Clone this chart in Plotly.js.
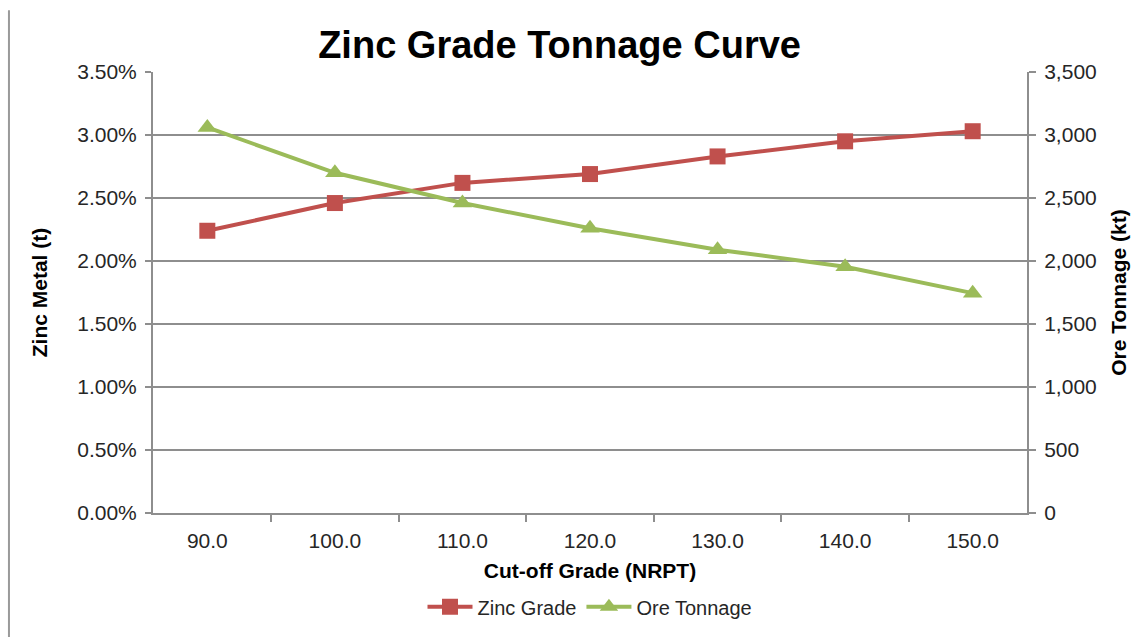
<!DOCTYPE html>
<html>
<head>
<meta charset="utf-8">
<script src="https://cdn.plot.ly/plotly-3.0.1.min.js"></script>
<style>html,body{margin:0;padding:0;background:#fff;}#chart{width:1142px;height:637px;}</style>
</head>
<body>
<div id="chart"></div>
<script>
const cutoffGrades = ['90.0', '100.0', '110.0', '120.0', '130.0', '140.0', '150.0'];
const zincGrade = [2.24, 2.46, 2.62, 2.69, 2.83, 2.95, 3.03];      // %
const oreTonnage = [3060, 2700, 2460, 2260, 2090, 1955, 1745];      // kt

const FONT = 'Liberation Sans, Arial, sans-serif';
const red = '#C0504D';
const green = '#9BBB59';
const grid = '#8E8E8E';
const txt = '#262626';

const traces = [
  {
    x: cutoffGrades, y: zincGrade, name: 'Zinc Grade', type: 'scatter', mode: 'lines+markers',
    line: {color: red, width: 4}, marker: {symbol: 'square', size: 16, color: red},
    yaxis: 'y'
  },
  {
    x: cutoffGrades, y: oreTonnage, name: 'Ore Tonnage', type: 'scatter', mode: 'lines+markers',
    line: {color: green, width: 4}, marker: {symbol: 'triangle-up', size: 17, color: green},
    yaxis: 'y2'
  }
];

const layout = {
  width: 1142, height: 637,
  margin: {l: 153, r: 115, t: 72, b: 123},
  paper_bgcolor: '#fff', plot_bgcolor: '#fff',
  font: {family: FONT, size: 21, color: txt},
  title: {
    text: '<b>Zinc Grade Tonnage Curve</b>',
    font: {family: FONT, size: 38, color: '#000'},
    xref: 'container', x: 0.490, xanchor: 'center',
    yref: 'container', y: 1 - 45 / 637, yanchor: 'middle'
  },
  showlegend: true,
  legend: {
    orientation: 'h', x: 0.5, xanchor: 'center', y: -0.21, yanchor: 'middle',
    font: {family: FONT, size: 20, color: txt}, itemwidth: 45, tracegroupgap: 0
  },
  xaxis: {
    type: 'category',
    tickson: 'boundaries', ticks: 'outside', ticklen: 7, tickcolor: grid, tickwidth: 2,
    ticklabelstandoff: 8,
    showline: true, linecolor: grid, linewidth: 2,
    showgrid: false, zeroline: false,
    tickfont: {family: FONT, size: 21, color: txt},
    title: {text: '<b>Cut-off Grade (NRPT)</b>', font: {family: FONT, size: 21, color: '#000'}, standoff: 12}
  },
  yaxis: {
    range: [0, 3.5], dtick: 0.5, tick0: 0, tickformat: '.2f', ticksuffix: '%',
    ticks: 'outside', ticklen: 6, tickcolor: grid, tickwidth: 2,
    ticklabelstandoff: 4,
    showline: true, linecolor: grid, linewidth: 2,
    showgrid: true, gridcolor: grid, gridwidth: 2, zeroline: false,
    tickfont: {family: FONT, size: 21, color: txt},
    title: {text: '<b>Zinc Metal (t)</b>', font: {family: FONT, size: 21, color: '#000'}, standoff: 24}
  },
  yaxis2: {
    overlaying: 'y', side: 'right',
    range: [0, 3500], dtick: 500, tick0: 0, tickformat: ',d',
    ticks: 'outside', ticklen: 7, tickcolor: grid, tickwidth: 2,
    ticklabelstandoff: 4,
    showline: true, linecolor: grid, linewidth: 2,
    showgrid: false, zeroline: false,
    tickfont: {family: FONT, size: 21, color: txt},
    title: {text: '<b>Ore Tonnage (kt)</b>', font: {family: FONT, size: 21, color: '#000'}, standoff: 16}
  },
  shapes: [
    {type: 'line', xref: 'paper', yref: 'paper', x0: -0.1648, x1: -0.1648, y0: 1.14, y1: -0.3,
     line: {color: '#9a9a9a', width: 2}}
  ]
};

Plotly.newPlot('chart', traces, layout, {displayModeBar: false, staticPlot: true});
</script>
</body>
</html>
